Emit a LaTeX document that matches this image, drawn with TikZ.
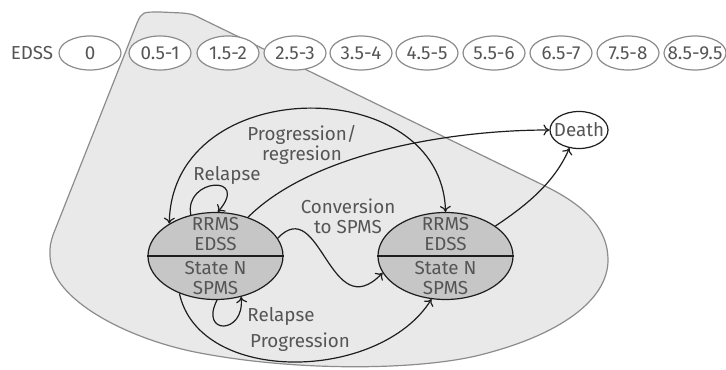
\documentclass[tikz,border=0pt]{standalone}
\usepackage{fontspec}
\setmainfont{Fira Sans}
\usetikzlibrary{shapes.geometric,arrows.meta}
\definecolor{txt}{HTML}{555555}
\definecolor{regionfill}{HTML}{E9E9E9}
\definecolor{regionline}{HTML}{8C8C8C}
\definecolor{statefill}{HTML}{C6C6C6}
\definecolor{ink}{HTML}{1E1E1E}
\begin{document}
\begin{tikzpicture}[x=0.5pt,y=-0.5pt,
  every node/.style={font=\fontsize{9.4}{10}\selectfont, text=txt},
  level/.style={ellipse, draw=regionline, fill=white, line width=0.6pt,
    minimum width=31pt, minimum height=17pt, inner xsep=-3.3pt, inner ysep=0pt},
  state/.style={ellipse, draw=ink, fill=statefill, line width=0.6pt,
    minimum width=67.5pt, minimum height=43.5pt, inner xsep=0pt,
    inner ysep=-5pt, align=center},
  endstate/.style={ellipse, draw=ink, fill=white, line width=0.6pt,
    minimum width=29pt, minimum height=18.5pt, inner xsep=-2.4pt, inner ysep=0pt},
  trans/.style={draw=ink, line width=0.6pt, -{To[length=3pt,width=5.5pt]}},
  twoway/.style={draw=ink, line width=0.6pt,
    {To[length=3pt,width=5.5pt]}-{To[length=3pt,width=5.5pt]}},
  lbl/.style={inner sep=0pt, align=center}
]
\useasboundingbox (0,0) rectangle (726,369);

% shaded region behind the states
\path[fill=regionfill, draw=regionline, line width=0.6pt]
  (137,23) .. controls (142,12) .. (160,12) -- (182,13)
  .. controls (192,14) .. (202,19)
  -- (545,186) .. controls (590,208) and (608,232) .. (608,260)
  .. controls (608,300) and (560,335) .. (480,355)
  .. controls (420,370) and (300,372) .. (200,353)
  .. controls (130,340) and (50,300) .. (50,255)
  .. controls (50,245) .. (53,235) -- cycle;

% EDSS scale
\node (edss) at (32,53) {EDSS};
\foreach \x/\t [count=\i] in {90/0,160/0.5-1,228/1.5-2,295/2.5-3,361/3.5-4,
    427/4.5-5,494/5.5-6,561/6.5-7,628/7.5-8,695/8.5-9.5}
  \node[level] (lv\i) at (\x,53) {\t};

% states
\node[state] (S1) at (215.5,256) {RRMS\\EDSS\\[2pt]State N\\SPMS};
\draw[draw=ink, line width=0.6pt] (S1.west) -- (S1.east);
\node[state] (S2) at (445.5,256) {RRMS\\EDSS\\[2pt]State N\\SPMS};
\draw[draw=ink, line width=0.6pt] (S2.west) -- (S2.east);
\node[endstate] (death) at (579,130) {Death};

% transitions
\draw[twoway] (S1.145) .. controls (172,72) and (442,72) .. (S2.90);
\draw[trans] (S1.50) .. controls +(64,-64) and +(-100,0) .. (death.west);
\draw[trans] (S2.31) .. controls +(30,-20) and +(-15,35) .. (death.-118);
\draw[trans] (S1.121) .. controls +(-7,-37) and +(33,-38) .. (S1.87);
\draw[trans] (S1.-88) .. controls +(-18,35) and +(4,38) .. (S1.-58);
\draw[trans] (S1.16) .. controls +(43,-45) and +(-53,55) .. (S2.195);
\draw[trans] (S1.-134) .. controls +(20,92) and +(-52,83) .. (S2.-108);

% labels
\node[lbl] (lpr) at (302,145) {Progression/\\regresion};
\node[lbl] (lrt) at (227,175) {Relapse};
\node[lbl, anchor=west] (lrb) at (247,316) {Relapse};
\node[lbl] (lcv) at (348,216) {Conversion\\to SPMS};
\node[lbl] (lpg) at (300,342) {Progression};
\end{tikzpicture}
\end{document}
